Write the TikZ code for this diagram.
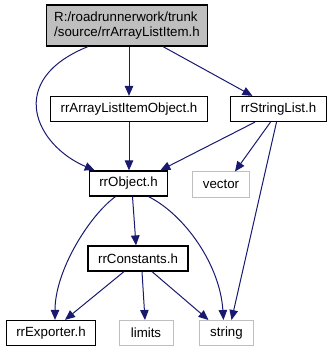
\documentclass[tikz,border=0pt]{standalone}
\usepackage{fontspec}
\setmainfont{Liberation Sans}
\usetikzlibrary{
  arrows.meta % For arrow tips
}
\definecolor{edgeblue}{HTML}{191970}
\definecolor{boxgray}{HTML}{BFBFBF}

\begin{document}
\begin{tikzpicture}[
      x=1pt, y=-1pt, % Pixel units, y pointing down
      >={Triangle[length=10pt,width=8.5pt]}, % Default arrow tip
      file/.style={draw=black, line width=1.2pt, fill=white,
        font=\fontsize{13.3}{15.5}\selectfont,
        inner xsep=10pt, inner ysep=0pt, minimum height=25pt}, % Style for project headers
      sysfile/.style={file, draw=boxgray, line width=1pt, minimum width=54pt}, % Style for system headers
      dep/.style={->, edgeblue, line width=1pt}, % Style for include arrows
    ]
    \useasboundingbox (0,0) rectangle (333,352);

    % Dateien
    \node[file, fill=boxgray, align=left, minimum height=41pt, inner xsep=8pt] (item) at (127,25.5)
      {R:/roadrunnerwork/trunk\\/source/rrArrayListItem.h};
    \node[file] (itemobj) at (129,109) {rrArrayListItemObject.h};
    \node[file] (strlist) at (278.5,109) {rrStringList.h};
    \node[file] (obj) at (128.5,183.5) {rrObject.h};
    \node[sysfile] (vector) at (221,184.5) {vector};
    \node[file] (consts) at (138,258.5) {rrConstants.h};
    \node[file] (exporter) at (51,333) {rrExporter.h};
    \node[sysfile] (limits) at (146,333) {limits};
    \node[sysfile] (string) at (226.5,333) {string};

    % Abhängigkeiten
    \draw[dep] ([xshift=-39]item.south) .. controls (5,80) and (35,145) .. ([xshift=6]obj.north west);
    \draw[dep] (itemobj.north |- item.south) -- (itemobj.north);
    \draw[dep] ([xshift=36]item.south) -- ([xshift=-26]strlist.north);

    \draw[dep] (itemobj.south) -- (itemobj.south |- obj.north);
    \draw[dep] ([xshift=-23.5]strlist.south) -- ([xshift=-8]obj.north east);
    \draw[dep] ([xshift=-8]strlist.south) -- ([xshift=14]vector.north);
    \draw[dep] ([xshift=-2]strlist.south) -- ([xshift=5]string.north);

    \draw[dep] ([xshift=-13]obj.south) .. controls (90,215) and (55,270) .. ([xshift=4]exporter.north);
    \draw[dep] ([xshift=4]obj.south) -- ([xshift=-2]consts.north);
    \draw[dep] ([xshift=20]obj.south) .. controls (185,215) and (220,265) .. ([xshift=-3]string.north);

    \draw[dep] ([xshift=-14]consts.south) -- ([xshift=14]exporter.north);
    \draw[dep] ([xshift=4]consts.south) -- ([xshift=-1]limits.north);
    \draw[dep] ([xshift=14]consts.south) -- ([xshift=-18]string.north);
  \end{tikzpicture}
\end{document}
